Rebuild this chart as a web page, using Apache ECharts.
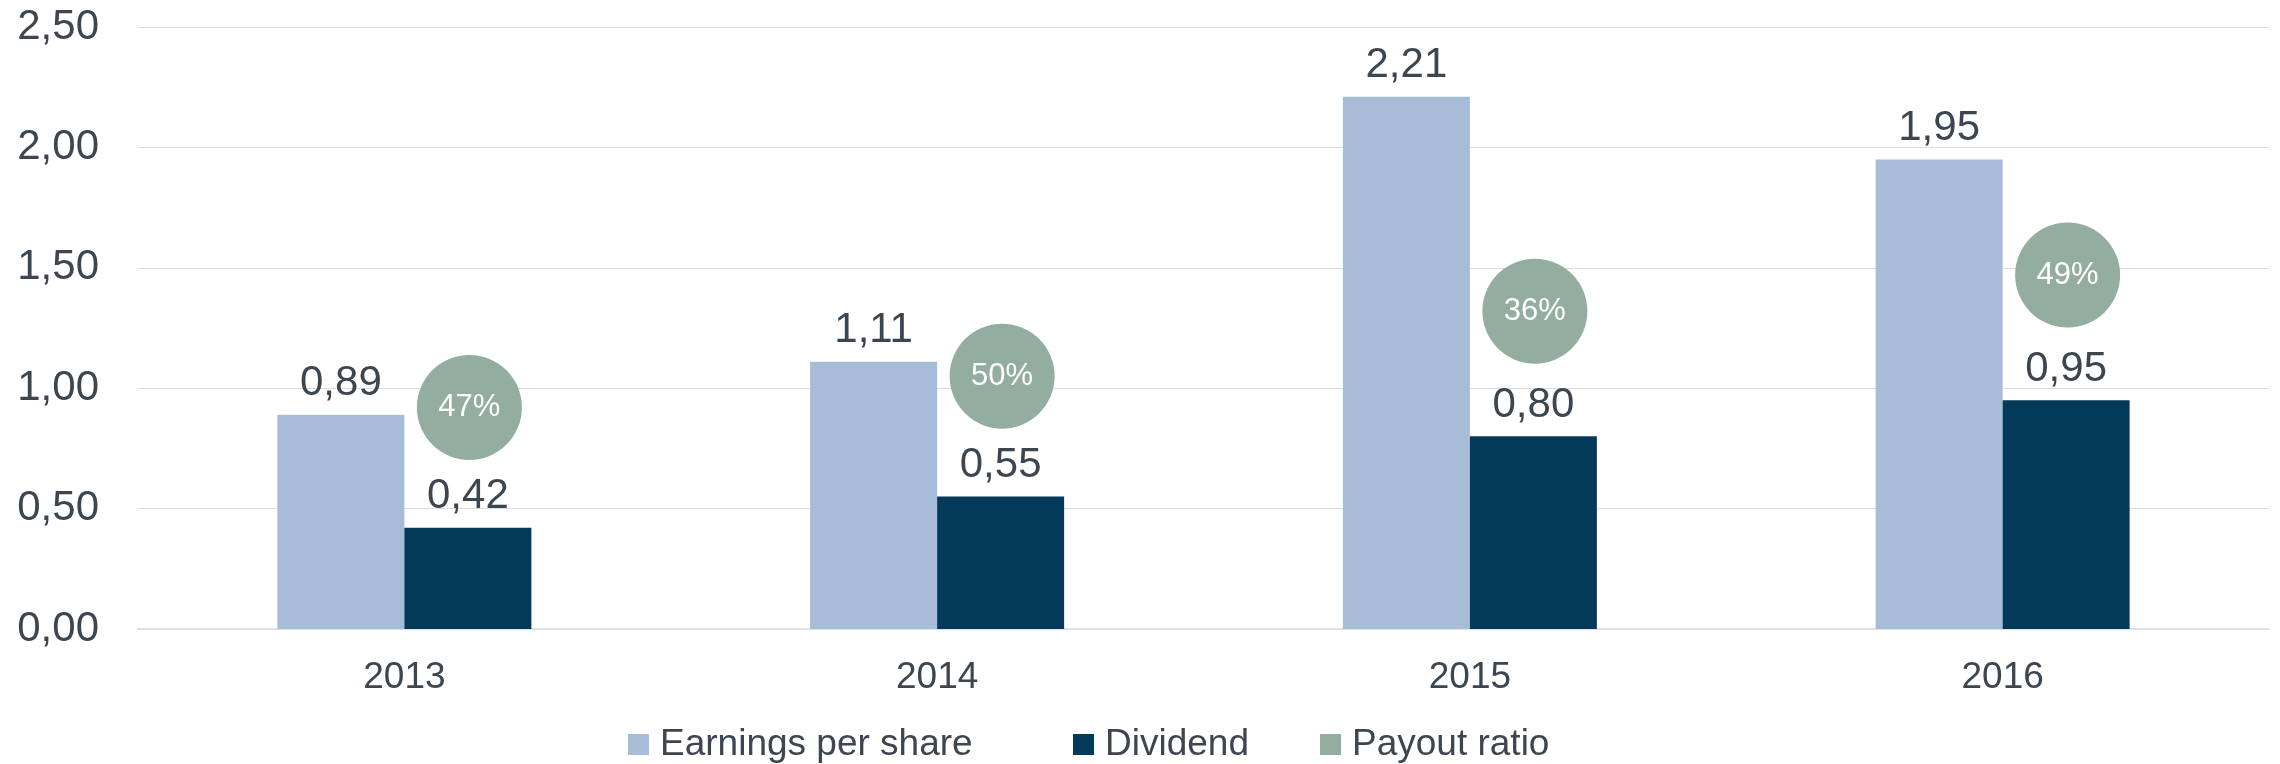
<!DOCTYPE html>
<html>
<head>
    <meta charset="utf-8">
    <script src="https://cdn.jsdelivr.net/npm/echarts@6/dist/echarts.min.js"></script>
    <style>
        html, body {
            margin: 0;
            padding: 0;
            background: #fff;
        }
        #main {
            width: 2280px;
            height: 764px;
        }
    </style>
</head>
<body>
    <div id="main"></div>
    <script>
        var years = ['2013', '2014', '2015', '2016'];
        var earningsPerShare = [0.89, 1.11, 2.21, 1.95];
        var dividend = [0.42, 0.55, 0.80, 0.95];
        var payoutRatio = [47, 50, 36, 49];
        // height at which each payout bubble sits
        var bubbleLevel = [0.92, 1.05, 1.32, 1.47];
        var yTicks = [0, 0.5, 1, 1.5, 2, 2.5];

        var textColor = '#3b4650';
        var font = 'Arial, "Liberation Sans", sans-serif';

        function comma(v) {
            return v.toFixed(2).replace('.', ',');
        }

        function legendFor(name, left) {
            return {
                data: [name],
                left: left,
                top: 721,
                icon: 'rect',
                itemWidth: 21,
                itemHeight: 21,
                itemGap: 0,
                textStyle: {
                    fontSize: 37,
                    color: textColor,
                    fontFamily: font,
                    padding: [0, 0, 0, 6]
                }
            };
        }

        var chart = echarts.init(document.getElementById('main'));

        var option = {
            animation: false,
            backgroundColor: '#ffffff',
            textStyle: {fontFamily: font},
            legend: [
                legendFor('Earnings per share', 623),
                legendFor('Dividend', 1068),
                legendFor('Payout ratio', 1315)
            ],
            grid: {
                left: 138,
                right: 11,
                top: 27,
                bottom: 135,
                containLabel: false
            },
            xAxis: {
                type: 'category',
                data: years,
                axisTick: {show: false},
                axisLine: {lineStyle: {color: '#dde2e8', width: 2}},
                axisLabel: {
                    fontSize: 37,
                    color: textColor,
                    fontFamily: font,
                    margin: 30
                }
            },
            yAxis: {
                type: 'value',
                min: yTicks[0],
                max: yTicks[yTicks.length - 1],
                interval: yTicks[1] - yTicks[0],
                axisLine: {show: false},
                axisTick: {show: false},
                splitLine: {lineStyle: {color: '#dcdcdc', width: 1}},
                axisLabel: {
                    fontSize: 42,
                    color: textColor,
                    fontFamily: font,
                    margin: 39,
                    formatter: comma
                }
            },
            series: [
                {
                    name: 'Earnings per share',
                    type: 'bar',
                    data: earningsPerShare,
                    barWidth: 127,
                    barGap: '0%',
                    itemStyle: {color: '#a7bcd7'},
                    label: {
                        show: true,
                        position: 'top',
                        distance: 10,
                        fontSize: 42,
                        color: textColor,
                        fontFamily: font,
                        formatter: function (p) { return comma(p.value); }
                    }
                },
                {
                    name: 'Dividend',
                    type: 'bar',
                    data: dividend,
                    barWidth: 127,
                    barGap: '0%',
                    itemStyle: {color: '#033a5a'},
                    label: {
                        show: true,
                        position: 'top',
                        distance: 10,
                        fontSize: 42,
                        color: textColor,
                        fontFamily: font,
                        formatter: function (p) { return comma(p.value); }
                    }
                },
                {
                    name: 'Payout ratio',
                    type: 'scatter',
                    data: bubbleLevel,
                    symbol: 'circle',
                    symbolSize: 105,
                    symbolOffset: [65, 0],
                    z: 5,
                    itemStyle: {color: '#93ad9f', opacity: 1},
                    label: {
                        show: true,
                        position: 'inside',
                        fontSize: 31,
                        color: '#ffffff',
                        fontFamily: font,
                        formatter: function (p) { return payoutRatio[p.dataIndex] + '%'; }
                    }
                }
            ]
        };

        chart.setOption(option);
    </script>
</body>
</html>
